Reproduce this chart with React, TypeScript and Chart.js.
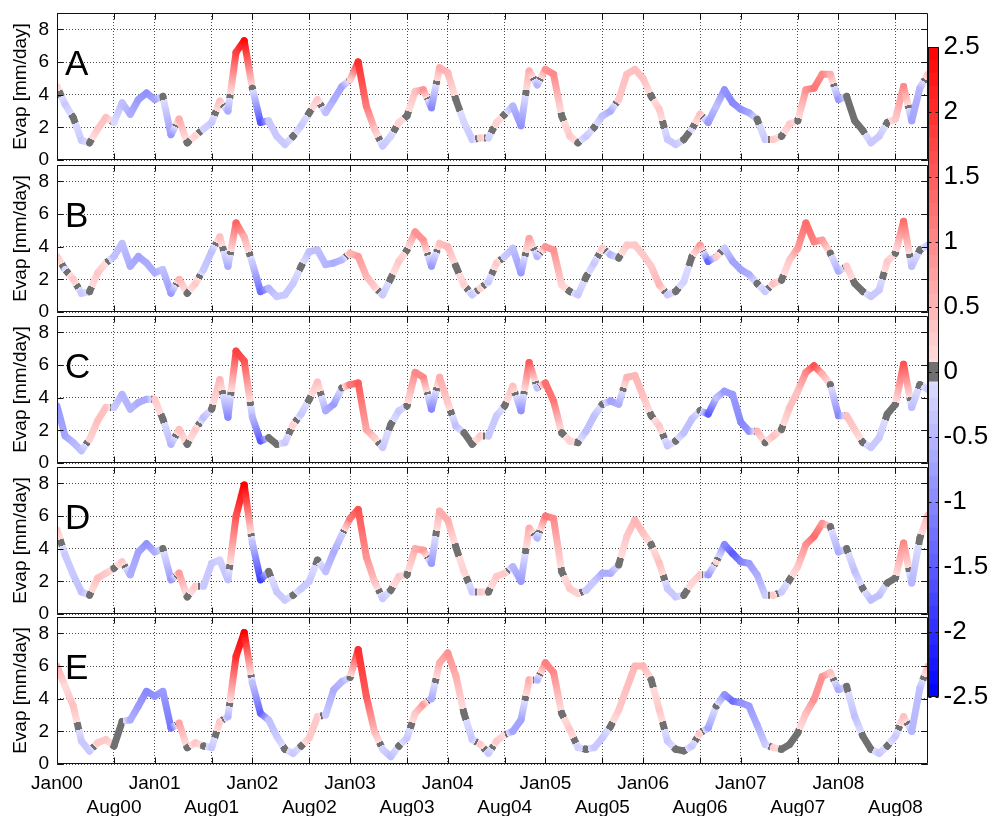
import React, { useEffect, useRef } from 'react';
import { Chart, registerables } from 'chart.js';

Chart.register(...registerables);

const FONT = '"Liberation Sans", Arial, Helvetica, sans-serif';
Chart.defaults.font.family = FONT;
Chart.defaults.color = '#000';

// ---------- data ----------
// month index: 0 = Jan 2000 ... 107 = Dec 2008
const MONTHS: number[] = Array.from({ length: 108 }, (_, i) => i);

const X_TICKS = [0, 7, 12, 19, 24, 31, 36, 43, 48, 55, 60, 67, 72, 79, 84, 91, 96, 103];
const X_TICK_LABELS = [
  'Jan00', 'Aug00', 'Jan01', 'Aug01', 'Jan02', 'Aug02', 'Jan03', 'Aug03', 'Jan04',
  'Aug04', 'Jan05', 'Aug05', 'Jan06', 'Aug06', 'Jan07', 'Aug07', 'Jan08', 'Aug08',
];
const Y_TICKS = [0, 2, 4, 6, 8];
const CB_TICKS = [-2.5, -2, -1.5, -1, -0.5, 0, 0.5, 1, 1.5, 2, 2.5];
const PANEL_LETTERS = ['A', 'B', 'C', 'D', 'E'];

// Evaporation [mm/day]
const EVAP_A = [
  4.5, 3.4, 2.6, 1.2, 1.05, 1.9, 2.6, 2.3, 3.5, 2.8, 3.7, 4.1,
  3.7, 3.9, 1.55, 2.5, 1.05, 1.5, 1.9, 2.3, 3.6, 3.0, 6.6, 7.3,
  4.4, 2.3, 2.4, 1.45, 0.95, 1.45, 2.1, 2.9, 3.7, 2.9, 3.7, 4.5,
  4.9, 6.0, 3.3, 1.9, 0.85, 1.45, 2.3, 2.7, 4.2, 4.3, 3.2, 5.65,
  5.35, 3.7, 2.3, 1.25, 1.35, 1.35, 2.3, 2.8, 3.3, 2.1, 5.45, 4.6,
  5.55, 5.25, 2.7, 1.45, 1.05, 1.45, 2.0, 2.7, 3.0, 3.7, 5.25, 5.55,
  5.0, 3.9, 3.1, 1.25, 0.95, 1.25, 1.9, 2.8, 2.3, 3.3, 4.3, 3.5,
  3.1, 2.9, 2.5, 1.25, 1.25, 1.45, 2.2, 2.4, 4.3, 4.4, 5.25, 5.25,
  3.7, 3.9, 2.4, 1.8, 1.05, 1.45, 2.3, 2.5, 4.5, 2.4, 4.4, 5.25,
];
const EVAP_B = [
  3.4, 2.6, 2.0, 1.15, 1.25, 2.4, 3.0, 3.4, 4.2, 2.8, 3.4, 3.0,
  2.4, 2.6, 1.15, 2.0, 1.15, 1.75, 2.6, 3.7, 4.6, 2.8, 5.45, 4.6,
  3.0, 1.25, 1.45, 0.95, 1.05, 1.75, 2.8, 3.7, 3.8, 2.9, 3.0, 3.2,
  3.6, 3.4, 2.2, 1.55, 1.05, 2.05, 3.1, 3.8, 4.9, 4.4, 2.8, 4.2,
  4.0, 2.8, 1.65, 1.05, 1.45, 1.85, 3.0, 3.4, 3.9, 2.4, 4.5, 3.4,
  4.0, 3.8, 1.65, 1.25, 1.05, 2.15, 3.0, 3.9, 3.5, 3.3, 4.1, 4.1,
  3.5, 2.8, 1.65, 1.05, 1.25, 1.85, 3.4, 4.1, 3.1, 3.4, 3.9, 3.1,
  2.6, 2.3, 1.75, 1.25, 1.75, 1.95, 3.2, 3.9, 5.45, 4.3, 4.4, 3.6,
  2.5, 2.8, 1.75, 1.25, 0.95, 1.35, 3.1, 3.6, 5.55, 2.8, 3.8, 4.1,
];
const EVAP_C = [
  3.5, 1.65, 1.25, 0.75, 1.45, 2.6, 3.4, 3.4, 4.2, 3.3, 3.7, 3.9,
  3.9, 2.7, 1.15, 2.05, 1.15, 2.05, 2.8, 3.3, 5.1, 2.8, 6.85, 6.25,
  2.8, 1.35, 1.55, 1.15, 1.25, 2.35, 3.0, 3.9, 4.95, 3.2, 3.6, 4.6,
  4.8, 4.9, 2.05, 1.55, 0.95, 2.35, 3.2, 3.5, 5.55, 5.25, 3.3, 5.25,
  3.7, 2.25, 1.85, 1.15, 1.65, 1.65, 2.9, 3.5, 4.7, 3.2, 6.15, 4.6,
  4.9, 3.8, 1.85, 1.35, 1.25, 1.95, 2.9, 3.6, 3.8, 3.6, 5.25, 5.35,
  4.1, 2.9, 2.25, 1.05, 1.35, 1.85, 2.7, 3.2, 3.0, 4.0, 4.4, 4.2,
  2.5, 1.95, 1.95, 1.25, 1.65, 2.05, 3.4, 4.4, 5.55, 5.95, 5.45, 4.8,
  2.9, 2.9, 2.05, 1.25, 0.95, 1.55, 3.0, 3.6, 6.05, 3.4, 4.8, 4.5,
];
const EVAP_D = [
  5.15, 3.6, 2.4, 1.35, 1.15, 2.2, 2.5, 2.8, 3.2, 2.4, 3.8, 4.3,
  3.8, 4.0, 2.1, 2.5, 1.05, 1.7, 1.7, 3.1, 3.3, 2.1, 6.0, 7.9,
  4.35, 2.1, 2.6, 1.35, 0.85, 1.15, 1.55, 2.0, 3.3, 2.6, 3.8, 4.85,
  5.85, 6.4, 3.5, 2.0, 0.95, 1.45, 2.3, 2.4, 4.0, 3.9, 3.1, 6.3,
  5.75, 4.1, 2.6, 1.35, 1.35, 1.35, 2.3, 2.5, 2.9, 2.0, 5.25, 4.65,
  6.0, 5.85, 2.6, 1.55, 1.25, 1.45, 2.0, 2.5, 2.5, 3.0, 4.75, 5.75,
  4.95, 4.25, 3.1, 1.55, 1.05, 1.15, 1.9, 2.4, 2.4, 3.2, 4.25, 3.7,
  3.2, 3.1, 2.4, 1.15, 1.15, 1.35, 2.1, 2.9, 4.25, 4.75, 5.55, 5.35,
  3.8, 4.0, 2.6, 1.55, 0.85, 1.15, 1.9, 2.2, 4.35, 1.9, 4.65, 6.05,
];
const EVAP_E = [
  6.0, 4.75, 3.55, 1.4, 0.8, 1.3, 1.5, 1.1, 2.6, 2.7, 3.55, 4.45,
  4.15, 4.45, 2.2, 2.5, 1.0, 1.3, 1.1, 1.0, 2.6, 2.9, 6.6, 8.05,
  4.95, 3.1, 2.7, 1.7, 0.9, 0.65, 1.1, 1.6, 2.9, 3.0, 4.55, 5.05,
  5.3, 7.0, 4.15, 2.0, 0.9, 0.45, 1.1, 1.6, 3.1, 3.65, 4.0, 6.2,
  6.8, 5.4, 3.1, 1.5, 1.2, 0.65, 1.4, 1.8, 2.0, 2.7, 5.15, 5.15,
  6.2, 5.6, 3.1, 2.1, 1.0, 0.9, 1.0, 1.6, 2.3, 3.3, 4.65, 6.0,
  6.0, 5.15, 3.3, 1.4, 0.9, 0.8, 1.1, 1.9, 2.2, 3.55, 4.25, 3.85,
  3.75, 3.55, 2.4, 1.2, 1.0, 0.9, 1.2, 1.9, 3.1, 3.95, 5.35, 5.6,
  4.55, 4.75, 2.9, 1.7, 0.9, 0.65, 1.1, 1.7, 2.9, 2.0, 4.65, 6.0,
];

// Anomaly (colour) values
const ANOM_A = [
  0.2, -0.3, 0, -0.3, 0, 0.3, 0.4, -0.1, -0.4, -0.6, -0.8, -0.9,
  -0.7, 0, -0.8, 0.6, 0, 0.2, -0.2, -0.3, 0.4, -0.6, 1.8, 2.4,
  0, -1.6, -0.3, -0.3, -0.3, 0, -0.3, 0, 0.3, -0.4, -0.6, -0.7,
  0.2, 2.0, 1.2, 0.4, -0.3, -0.2, 0.2, 0, 0.4, 0.9, -1.0, 0.6,
  0.5, 0, -0.15, -0.3, 0.3, -0.2, 0.2, 0, -0.5, -0.9, 0.6, -0.5,
  0.9, 1.0, 0, 0.3, 0, -0.3, 0, -0.4, -0.6, 0.3, 0.4, 0.4,
  0.4, 0, 0.3, -0.3, -0.3, 0, -0.1, 0.4, -0.8, -0.4, -0.9, -1.0,
  -0.9, -0.7, 0, -0.3, 0.3, 0, 0.3, 0, 0.9, 1.2, 1.0, 0.6,
  -0.8, 0, 0, 0, -0.3, -0.3, 0, 0.3, 1.0, -0.7, -0.5, 0.4,
];
const ANOM_B = [
  0.3, -0.1, 0.3, -0.3, 0, 0.3, 0.1, -0.4, -0.4, -0.6, -0.7, -0.6,
  -0.6, -0.4, -0.8, 0.5, 0, 0.3, -0.3, -0.4, 0.4, -0.6, 1.4, 0.6,
  -0.3, -1.3, -0.5, -0.3, -0.3, -0.3, 0, -0.4, -0.4, -0.5, -0.6, -0.5,
  0.5, 0.8, 0.5, 0.3, -0.3, 0, 0.3, 0, 0.9, 0.9, -0.8, 0.4,
  0.5, 0, 0.2, -0.3, 0.2, -0.3, 0.3, -0.3, -0.4, -0.8, 0.7, -0.5,
  0.9, 0.9, 0.2, 0, -0.3, 0, -0.3, 0.3, -0.5, 0, 0.3, 0.3,
  0.3, 0.3, 0.5, -0.3, 0, -0.2, 0, 0.8, -1.4, 0.3, -0.3, -0.7,
  -0.7, -0.6, 0, -0.3, 0.4, 0, 0.3, 0.8, 1.3, 1.1, 0.8, 0,
  -0.6, 0.3, 0, 0, -0.3, -0.3, 0.3, 0, 1.3, -0.4, 0, -0.3,
];
const ANOM_C = [
  -0.8, -0.7, -0.5, -0.4, 0.2, 0.4, 0.4, -0.3, -0.5, -0.5, -0.6, -0.6,
  0.3, 0, -0.5, 0.4, 0, 0.3, -0.4, 0, 0.5, -1.0, 1.8, 1.6,
  -0.5, -1.5, 0, 0, -0.3, 0.2, -0.3, 0, 0.4, -0.6, -0.8, 0,
  1.2, 1.5, 0.7, 0.3, -0.3, 0, -0.3, 0, 1.0, 1.0, -1.0, 0.6,
  0.3, -0.4, 0, 0, 0.3, -0.3, -0.3, 0, 0.4, -0.9, 1.5, -0.4,
  1.3, 1.2, 0, 0.2, 0, -0.4, -0.4, 0, -0.7, -0.6, 0.5, 0.5,
  0.4, 0, 0.3, -0.3, 0, -0.4, -0.4, 0, -1.5, -0.4, -0.8, -0.8,
  -1.0, -0.9, 0.5, 0, 0.4, 0, 0.4, 0.4, 1.0, 1.6, 0.6, 0,
  -1.0, 0.4, 0.3, 0, -0.3, -0.3, 0, 0, 1.6, -0.4, 0, -0.3,
];
const ANOM_D = [
  0.3, -0.3, -0.3, -0.4, 0, 0.4, 0.3, 0, 0.3, -0.6, -0.7, -0.9,
  -0.6, 0, -0.8, 0.8, 0, 0.3, -0.3, -0.3, -0.2, -0.4, 1.6, 2.5,
  -0.4, -1.8, 0, -0.3, -0.3, 0, -0.3, -0.3, 0, -0.4, -0.6, -0.3,
  1.2, 1.6, 0.9, 0.4, -0.3, 0, 0.3, 0, 0.6, 0.8, -0.8, 0.6,
  0.6, 0, 0.2, -0.3, 0.3, 0, 0.3, 0.3, -0.5, -0.8, 0.6, -0.5,
  1.2, 1.0, 0, 0.3, 0.2, -0.3, -0.3, -0.6, -0.6, 0, 0.3, 0.5,
  0.4, 0, 0.4, -0.3, -0.3, 0, 0.15, 0.3, -0.8, 0.2, -1.0, -1.5,
  -1.1, -0.8, -0.6, -0.3, 0.3, -0.3, 0, 0.3, 0.9, 1.3, 0.9, 0,
  -0.6, 0, -0.4, 0, -0.4, -0.4, 0, 0, 1.0, -0.5, 0, 0.5,
];
const ANOM_E = [
  0.6, 0.1, 0.4, -0.3, -0.3, 0.3, 0.3, 0, 0, -0.6, -0.8, -1.0,
  -0.9, -0.8, -1.2, 0.7, 0, 0.3, 0, -0.3, 0.3, -0.5, 2.0, 2.5,
  -0.4, -1.4, -0.4, -0.3, 0, -0.3, 0, 0.3, 0.3, -0.3, -0.6, -0.5,
  0, 2.0, 1.5, 0.5, -0.2, -0.4, 0, -0.3, 0.3, 0.8, -0.6, 0.6,
  0.9, 0.6, 0, -0.3, 0.3, -0.3, 0.3, 0.1, -0.7, -0.7, 0.6, -0.5,
  1.1, 1.0, 0, 0.3, -0.2, 0, -0.3, -0.3, 0, 0.3, 0.4, 0.5,
  0.5, 0, 0.3, -0.3, 0, 0, -0.3, 0.3, -0.7, 0, -0.9, -1.3,
  -0.9, -0.8, -0.6, -0.3, 0.2, 0, 0, 0, 0.4, 0.9, 0.9, 0.4,
  -0.6, 0, -0.4, 0, 0, -0.3, 0, -0.3, 0.4, -0.5, -0.4, 0.5,
];

const PANEL_EVAP = [EVAP_A, EVAP_B, EVAP_C, EVAP_D, EVAP_E];
const PANEL_ANOM = [ANOM_A, ANOM_B, ANOM_C, ANOM_D, ANOM_E];

// ---------- colour map ----------
const GRAY = 'rgb(112,112,112)';
const GRAY_HALF = 0.075;
const CB_LIMIT = 2.5;

function anomColor(a: number, sign: number): string {
  const m = Math.max(Math.abs(a), GRAY_HALF);
  const t = Math.min(m / CB_LIMIT, 1);
  const c = Math.round(228 * (1 - t));
  return sign > 0 ? `rgb(255,${c},${c})` : `rgb(${c},${c},255)`;
}
function cmap(a: number): string {
  if (Math.abs(a) < GRAY_HALF) return GRAY;
  return anomColor(a, a > 0 ? 1 : -1);
}

function segmentGradient(ctx2d: CanvasRenderingContext2D, x0: number, y0: number, x1: number, y1: number, a0: number, a1: number) {
  const g = ctx2d.createLinearGradient(x0, y0, x1, y1);
  const cuts = [0, 1];
  if (a1 !== a0) {
    for (const th of [-GRAY_HALF, GRAY_HALF]) {
      const t = (th - a0) / (a1 - a0);
      if (t > 0 && t < 1) cuts.push(t);
    }
  }
  cuts.sort((p, q) => p - q);
  for (let i = 0; i < cuts.length - 1; i++) {
    const t0 = cuts[i];
    const t1 = cuts[i + 1];
    const am = a0 + ((a1 - a0) * (t0 + t1)) / 2;
    if (Math.abs(am) < GRAY_HALF) {
      g.addColorStop(t0, GRAY);
      g.addColorStop(t1, GRAY);
    } else {
      const sign = am > 0 ? 1 : -1;
      const n = 4;
      for (let k = 0; k <= n; k++) {
        const t = t0 + ((t1 - t0) * k) / n;
        g.addColorStop(t, anomColor(a0 + (a1 - a0) * t, sign));
      }
    }
  }
  return g;
}

// colour bar bands
function buildBands(): [number, number][] {
  const edges: number[] = [];
  for (let i = 0; i <= 24; i++) edges.push(Math.round((-2.5 + 0.1 * i) * 1000) / 1000);
  edges.push(-GRAY_HALF, GRAY_HALF);
  for (let i = 1; i <= 25; i++) edges.push(Math.round(0.1 * i * 1000) / 1000);
  const bands: [number, number][] = [];
  for (let i = 0; i < edges.length - 1; i++) bands.push([edges[i], edges[i + 1]]);
  return bands;
}
const CB_BANDS = buildBands();

// ---------- layout ----------
const PLOT_TOPS = [13, 165, 316, 467, 617];
const PLOT_H = 147;
const PAD = 25;
const CANVAS_W = 940;

function panelFrame(letter: string) {
  return {
    id: 'panelFrame',
    afterDatasetsDraw(chart: any) {
      const { ctx, chartArea: a, scales } = chart;
      const L = Math.round(a.left) + 0.5;
      const R = Math.round(a.right) - 0.5;
      const T = Math.round(a.top) + 0.5;
      const B = Math.round(a.bottom) - 0.5;
      ctx.save();
      ctx.setLineDash([]);
      ctx.strokeStyle = '#111';
      ctx.lineWidth = 1;
      ctx.beginPath();
      for (const v of Y_TICKS) {
        const y = Math.round(scales.y.getPixelForValue(v)) + 0.5;
        ctx.moveTo(L, y);
        ctx.lineTo(L + 6, y);
        ctx.moveTo(R, y);
        ctx.lineTo(R - 6, y);
      }
      for (const m of X_TICKS) {
        const x = Math.round(scales.x.getPixelForValue(m)) + 0.5;
        ctx.moveTo(x, B);
        ctx.lineTo(x, B - 6);
        ctx.moveTo(x, T);
        ctx.lineTo(x, T + 6);
      }
      ctx.rect(L, T, R - L, B - T);
      ctx.stroke();
      ctx.fillStyle = '#000';
      ctx.font = `35px ${FONT}`;
      ctx.textAlign = 'left';
      ctx.textBaseline = 'alphabetic';
      ctx.fillText(letter, a.left + 8, a.top + 62);
      ctx.restore();
    },
  };
}

function Panel({ index }: { index: number }) {
  const ref = useRef<HTMLCanvasElement | null>(null);
  const showX = index === 4;
  const top = PLOT_TOPS[index] - PAD;
  const height = showX ? 816 - top : PLOT_H + 2 * PAD;

  useEffect(() => {
    const canvas = ref.current;
    if (!canvas) return;
    const ctx2d = canvas.getContext('2d') as CanvasRenderingContext2D;
    const evap = PANEL_EVAP[index];
    const anom = PANEL_ANOM[index];
    const chart = new Chart(canvas, {
      type: 'line',
      data: {
        datasets: [
          {
            data: MONTHS.map((m, i) => ({ x: m, y: evap[i] })),
            borderWidth: 7,
            pointRadius: 0,
            tension: 0,
            borderCapStyle: 'round',
            borderJoinStyle: 'round',
            borderColor: '#888',
            segment: {
              borderColor: (sc: any) =>
                segmentGradient(ctx2d, sc.p0.x, sc.p0.y, sc.p1.x, sc.p1.y, anom[sc.p0DataIndex], anom[sc.p1DataIndex]),
            },
          } as any,
        ],
      },
      options: {
        responsive: false,
        maintainAspectRatio: false,
        animation: false,
        events: [],
        layout: { padding: { left: 0, right: CANVAS_W - 928, top: PAD, bottom: showX ? 0 : PAD } },
        plugins: { legend: { display: false }, tooltip: { enabled: false } },
        scales: {
          x: {
            type: 'linear',
            min: 0,
            max: 107,
            afterBuildTicks: (s: any) => {
              s.ticks = X_TICKS.map((v) => ({ value: v }));
            },
            afterFit: (s: any) => {
              s.height = showX ? height - PAD - PLOT_H : 0;
            },
            ticks: {
              display: showX,
              autoSkip: false,
              maxRotation: 0,
              minRotation: 0,
              padding: 8,
              color: '#000',
              font: { size: 19, family: FONT, lineHeight: 1.26 },
              callback: (_v: any, i: number) => {
                const lab = X_TICK_LABELS[i];
                return lab.startsWith('Jan') ? [lab, ''] : ['', lab];
              },
            },
            grid: { color: 'rgba(0,0,0,0.7)', lineWidth: 1, drawTicks: false },
            border: { display: false, dash: [1, 2] },
          },
          y: {
            min: 0,
            max: 9,
            afterBuildTicks: (s: any) => {
              s.ticks = Y_TICKS.map((v) => ({ value: v }));
            },
            afterFit: (s: any) => {
              s.width = 57;
            },
            ticks: { padding: 8, color: '#000', font: { size: 19, family: FONT } },
            grid: { color: 'rgba(0,0,0,0.7)', lineWidth: 1, drawTicks: false },
            border: { display: false, dash: [1, 2] },
            title: {
              display: true,
              text: 'Evap [mm/day]',
              color: '#000',
              font: { size: 19, family: FONT },
              padding: { top: 9, bottom: 0 },
            },
          },
        },
      },
      plugins: [panelFrame(PANEL_LETTERS[index])],
    } as any);
    return () => chart.destroy();
  }, [index, height, showX]);

  return (
    <canvas
      ref={ref}
      width={CANVAS_W}
      height={height}
      style={{ position: 'absolute', left: 0, top, width: CANVAS_W, height }}
    />
  );
}

const cbFrame = {
  id: 'cbFrame',
  afterDatasetsDraw(chart: any) {
    const { ctx, chartArea: a, scales } = chart;
    const L = Math.round(a.left) + 0.5;
    const R = Math.round(a.right) - 0.5;
    const T = Math.round(a.top) + 0.5;
    const B = Math.round(a.bottom) - 0.5;
    ctx.save();
    ctx.strokeStyle = '#111';
    ctx.lineWidth = 1;
    ctx.beginPath();
    for (const v of CB_TICKS) {
      const y = Math.round(scales.y.getPixelForValue(v)) + 0.5;
      ctx.moveTo(L, y);
      ctx.lineTo(L + 3, y);
      ctx.moveTo(R, y);
      ctx.lineTo(R - 3, y);
    }
    ctx.rect(L, T, R - L, B - T);
    ctx.stroke();
    ctx.restore();
  },
};

function ColorBar() {
  const ref = useRef<HTMLCanvasElement | null>(null);
  const left = 900;
  const top = 20;
  const w = 93;
  const h = 702;
  useEffect(() => {
    const canvas = ref.current;
    if (!canvas) return;
    const chart = new Chart(canvas, {
      type: 'bar',
      data: {
        labels: ['colorbar'],
        datasets: CB_BANDS.map(([lo, hi]) => ({
          data: [[lo, hi]],
          backgroundColor: cmap((lo + hi) / 2),
          borderWidth: 0,
          barPercentage: 1,
          categoryPercentage: 1,
          grouped: false,
        })),
      } as any,
      options: {
        responsive: false,
        maintainAspectRatio: false,
        animation: false,
        events: [],
        layout: { padding: { left: 28, right: 0, top: 27, bottom: 25 } },
        plugins: { legend: { display: false }, tooltip: { enabled: false } },
        scales: {
          x: { display: false },
          y: {
            position: 'right',
            min: -CB_LIMIT,
            max: CB_LIMIT,
            afterBuildTicks: (s: any) => {
              s.ticks = CB_TICKS.map((v) => ({ value: v }));
            },
            afterFit: (s: any) => {
              s.width = 54.5;
            },
            ticks: {
              padding: 5,
              color: '#000',
              font: { size: 26, family: FONT },
              callback: (v: any) => String(v),
            },
            grid: { display: false, drawTicks: false },
            border: { display: false },
          },
        },
      } as any,
      plugins: [cbFrame],
    } as any);
    return () => chart.destroy();
  }, []);
  return (
    <canvas
      ref={ref}
      width={w}
      height={h}
      style={{ position: 'absolute', left, top, width: w, height: h }}
    />
  );
}

export default function App() {
  return (
    <div style={{ position: 'absolute', left: 0, top: 0, width: 993, height: 816, background: '#fff', overflow: 'hidden' }}>
      {PANEL_LETTERS.map((_, i) => (
        <Panel key={i} index={i} />
      ))}
      <ColorBar />
    </div>
  );
}
